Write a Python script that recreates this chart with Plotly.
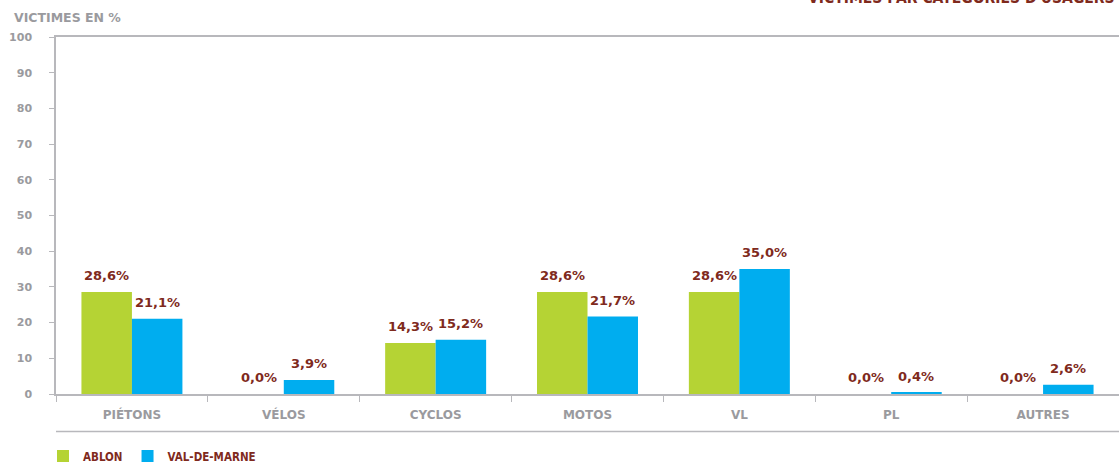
import plotly.graph_objects as go

categories = ["PIÉTONS", "VÉLOS", "CYCLOS", "MOTOS", "VL", "PL", "AUTRES"]
ablon = [28.6, 0.0, 14.3, 28.6, 28.6, 0.0, 0.0]
val_de_marne = [21.1, 3.9, 15.2, 21.7, 35.0, 0.4, 2.6]
series_names = ["ABLON", "VAL-DE-MARNE"]
y_ticks = list(range(0, 101, 10))

GREEN = "#b5d334"
BLUE = "#00adef"
DARKRED = "#7f2a1d"
GREY = "#9a9a9e"
AXIS = "#b8b8bc"
BOLD = "DejaVu Sans"
NARROW = "Liberation Sans Narrow, DejaVu Sans Condensed, Arial Narrow, sans-serif"

W, H = 1119, 471
ML, MR, MT, MB = 56, 0, 37, 77
plot_w = W - ML - MR
plot_h = H - MT - MB


def py(p):
    """pixel row -> paper y"""
    return (H - MB - p) / plot_h


def px(p):
    """pixel column -> paper x"""
    return (p - ML) / plot_w


fig = go.Figure()
fig.add_trace(go.Bar(x=categories, y=ablon, name=series_names[0],
                     marker=dict(color=GREEN, line=dict(width=0))))
fig.add_trace(go.Bar(x=categories, y=val_de_marne, name=series_names[1],
                     marker=dict(color=BLUE, line=dict(width=0))))

bargap = 0.335
cat_px = plot_w / len(categories)
off = cat_px * (1 - bargap) / 4

annotations = []
for vals, sign in ((ablon, -1), (val_de_marne, 1)):
    for c, v in zip(categories, vals):
        annotations.append(dict(
            x=c, y=v, xref="x", yref="y", text=f"{v:.1f}%".replace(".", ","),
            showarrow=False, xshift=sign * off, yshift=7, yanchor="bottom",
            font=dict(family=BOLD, size=13, color=DARKRED, weight="bold")))

annotations.append(dict(
    x=px(12), y=py(18), xref="paper", yref="paper", text="VICTIMES EN %",
    showarrow=False, xanchor="left", yanchor="middle",
    font=dict(family=BOLD, size=12.5, color=GREY, weight="bold")))

annotations.append(dict(
    x=px(W - 2), y=py(9), xref="paper", yref="paper",
    text="VICTIMES PAR CATÉGORIES D'USAGERS",
    showarrow=False, xanchor="right", yanchor="bottom",
    font=dict(family=NARROW, size=15.5, color=DARKRED, weight="bold")))

fig.update_layout(
    width=W, height=H,
    margin=dict(l=ML, r=MR, t=MT, b=MB, pad=0),
    paper_bgcolor="white", plot_bgcolor="white",
    barmode="group", bargap=bargap, bargroupgap=0,
    showlegend=True,
    legend=dict(orientation="h", x=px(43), y=py(456),
                xanchor="left", yanchor="middle",
                font=dict(family=NARROW, size=11.5, color=DARKRED, weight="bold"),
                itemwidth=30, bgcolor="rgba(0,0,0,0)"),
    annotations=annotations,
    shapes=[dict(type="line", xref="paper", yref="paper", x0=0, x1=1,
                 y0=py(431.5), y1=py(431.5),
                 line=dict(color=AXIS, width=1.5))],
    xaxis=dict(type="category", range=[-0.5, len(categories) - 0.5],
               showline=True, linecolor=AXIS, linewidth=1.5, mirror=True,
               ticks="outside", tickson="boundaries", ticklen=6, tickcolor=AXIS, tickwidth=1,
               showgrid=False, zeroline=False,
               tickfont=dict(family=BOLD, size=12, color=GREY, weight="bold"),
               ticklabelstandoff=9),
    yaxis=dict(range=[0, 100], tickvals=y_ticks, showline=True, linecolor=AXIS, linewidth=1.5,
               ticks="outside", ticklen=5, tickcolor=AXIS, tickwidth=1,
               showgrid=False, zeroline=False,
               tickfont=dict(family=BOLD, size=11, color=GREY, weight="bold"),
               ticklabelstandoff=15),
)

fig.write_html("out.html", config={"displayModeBar": False},
               post_script="document.body.style.margin='0';")
